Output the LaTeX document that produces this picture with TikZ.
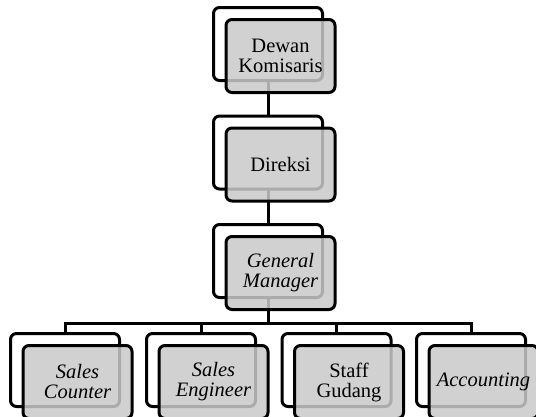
\documentclass[tikz,border=0pt]{standalone}
\usepackage{fontspec}
\setmainfont{Liberation Serif}
\usetikzlibrary{positioning}

\begin{document}
\begin{tikzpicture}[x=1pt, y=-1pt,
    backbox/.style={rectangle, rounded corners=6pt, minimum width=109pt, minimum height=73pt, draw=black, line width=3pt, fill=white},
    frontbox/.style={rectangle, rounded corners=6pt, minimum width=109pt, minimum height=73pt, draw=black, line width=3pt, fill=black!21, fill opacity=0.85, text opacity=1, align=center, font=\fontsize{20.5}{20}\selectfont, xshift=12.5pt, yshift=-12pt},
    conn/.style={line width=3pt}
    ]
    \clip (0,0) rectangle (536,416);
    \coordinate (bus) at (268,323);

    % Connectors
    \path (268,44) coordinate (dk_c) (268,152.5) coordinate (dr_c) (268,261) coordinate (gm_c);
    \path (65,370) coordinate (sc_c) (201,370) coordinate (se_c) (336.5,370) coordinate (sg_c) (471,370) coordinate (ac_c);
    \draw [conn] (dk_c) -- (dr_c);
    \draw [conn] (dr_c) -- (gm_c);
    \draw [conn] (gm_c) -- (bus);
    \draw [conn] (sc_c) -- (sc_c |- bus) -- (ac_c |- bus) -- (ac_c);
    \draw [conn] (se_c) -- (se_c |- bus);
    \draw [conn] (sg_c) -- (sg_c |- bus);

    % Back boxes
    \node (dk_b) [backbox] at (dk_c) {};
    \node (dr_b) [backbox] at (dr_c) {};
    \node (gm_b) [backbox] at (gm_c) {};
    \node (sc_b) [backbox] at (sc_c) {};
    \node (se_b) [backbox] at (se_c) {};
    \node (sg_b) [backbox] at (sg_c) {};
    \node (ac_b) [backbox] at (ac_c) {};

    % Front boxes
    \node (dk) [frontbox] at (dk_b) {Dewan\\Komisaris};
    \node (dr) [frontbox] at (dr_b) {Direksi};
    \node (gm) [frontbox] at (gm_b) {\itshape General\\\itshape Manager};
    \node (sc) [frontbox] at (sc_b) {\itshape Sales\\\itshape Counter};
    \node (se) [frontbox] at (se_b) {\itshape Sales\\\itshape Engineer};
    \node (sg) [frontbox] at (sg_b) {Staff\\Gudang};
    \node (ac) [frontbox] at (ac_b) {\itshape Accounting};

\end{tikzpicture}
\end{document}
